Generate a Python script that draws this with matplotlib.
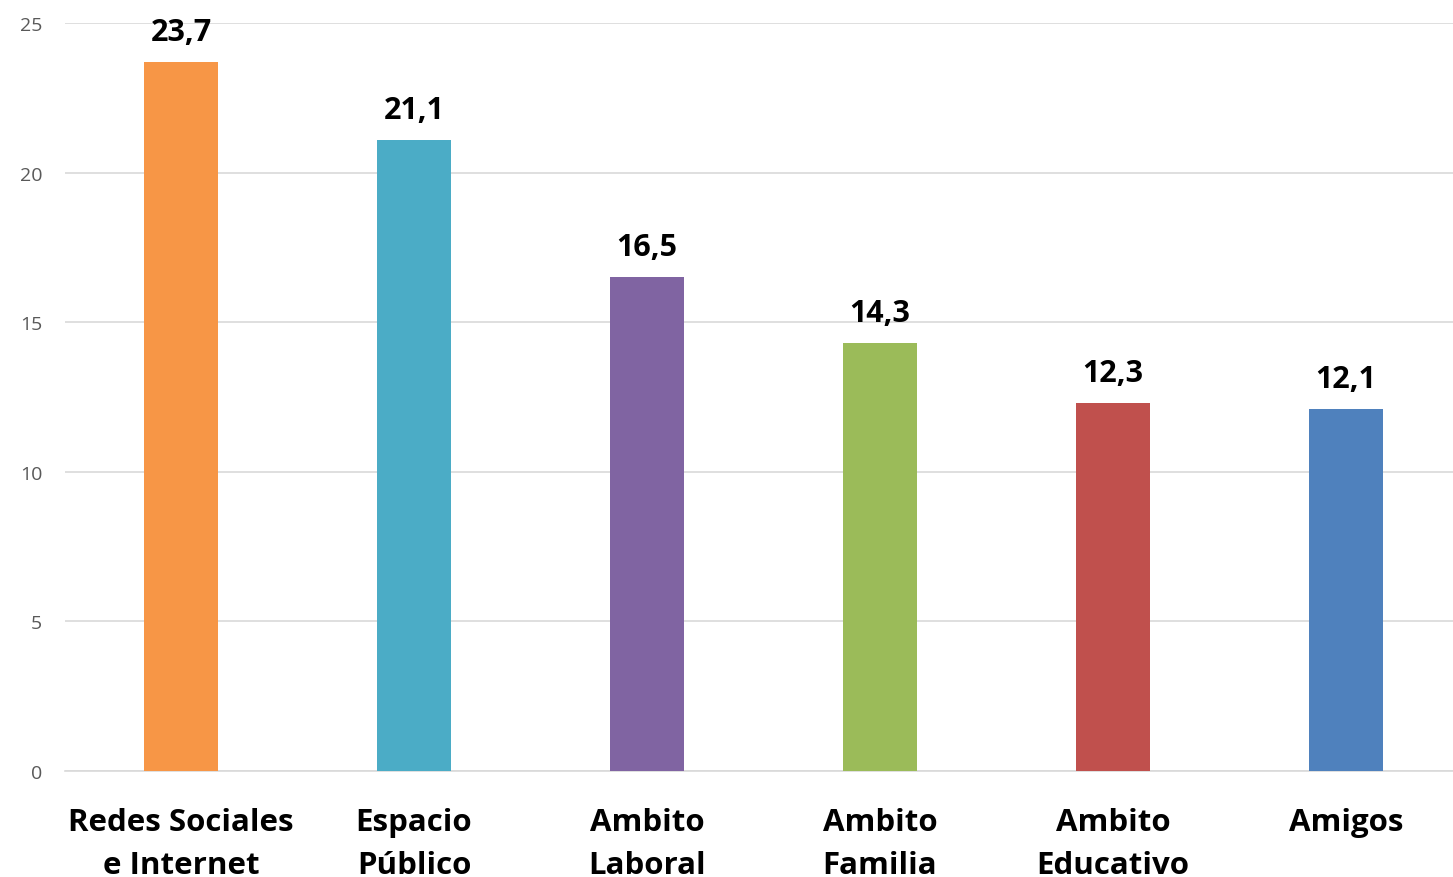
import matplotlib.pyplot as plt

categories = ["Redes Sociales\ne Internet", "Espacio\nPúblico", "Ambito\nLaboral",
              "Ambito\nFamilia", "Ambito\nEducativo", "Amigos"]
values = [23.7, 21.1, 16.5, 14.3, 12.3, 12.1]
bar_colors = ["#F79646", "#4BACC6", "#8064A2", "#9BBB59", "#C0504D", "#4F81BD"]

plt.rcParams['font.family'] = ['Open Sans', 'DejaVu Sans']

fig = plt.figure(figsize=(14.53, 8.78), dpi=100)
ax = fig.add_axes([0.0444, 0.1207, 0.962, 0.852])

x = range(len(values))
ax.bar(x, values, width=0.32, color=bar_colors, zorder=3)

for i, v in enumerate(values):
    ax.text(i, v + 0.74, f"{v:.1f}".replace(".", ","), ha='center', va='baseline',
            fontsize=22, fontweight='bold', color='black')

ax.set_xlim(-0.5, len(values) - 0.5)
ax.set_ylim(0, 25)
ax.set_yticks([0, 5, 10, 15, 20, 25])
ax.yaxis.grid(True, color='#D9D9D9', linewidth=1.2, zorder=0)
ax.set_axisbelow(True)

ax.set_xticks(list(x))
ax.set_xticklabels(categories, fontsize=22.5, fontweight='bold', linespacing=1.56)
ax.tick_params(axis='x', length=0, pad=26)
ax.tick_params(axis='y', length=0, pad=16, labelsize=14, labelcolor='#595959')

for s in ['top', 'right', 'left']:
    ax.spines[s].set_visible(False)
ax.spines['bottom'].set_color('#D9D9D9')
ax.spines['bottom'].set_linewidth(1.2)

fig.savefig("out.png", dpi=100)
